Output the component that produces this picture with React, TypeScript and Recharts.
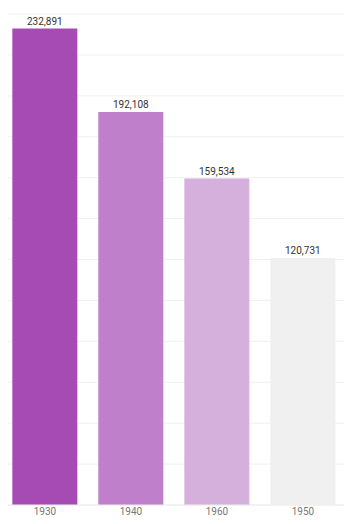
import React from 'react';
import { BarChart, Bar, XAxis, YAxis, CartesianGrid, Cell, LabelList } from 'recharts';

const years = ['1930', '1940', '1960', '1950'];
const population = [232891, 192108, 159534, 120731];
const yTicks = [0, 20000, 40000, 60000, 80000, 100000, 120000, 140000, 160000, 180000, 200000, 220000, 240000];

const barColors = ['#a64bb3', '#c07fca', '#d6b0dd', '#f0f0f0'];

const data = years.map((year, i) => ({ year, value: population[i] }));

const fmt = (v: any) => Number(v).toLocaleString('en-US');

export default function App() {
  return (
    <div style={{ width: 352, height: 524, background: '#f7f7f7', margin: -8, position: 'relative', fontFamily: 'Roboto, sans-serif' }}>
      <div style={{ position: 'absolute', left: 0, top: 0, width: 346, height: 521, background: '#fff' }}>
        <BarChart width={346} height={521} data={data} margin={{ top: 14, right: 0, left: 2, bottom: 0 }} barCategoryGap="12%">
          <CartesianGrid vertical={false} stroke="#f0f0f0" />
          <YAxis hide domain={[0, 240000]} ticks={yTicks} />
          <XAxis
            dataKey="year"
            height={16}
            tickLine={false}
            tickSize={0}
            axisLine={{ stroke: '#eeeeee' }}
            tick={{ fill: '#777', fontSize: 10 }}
            tickMargin={3}
          />
          <Bar dataKey="value" isAnimationActive={false}>
            {data.map((d, i) => (
              <Cell key={d.year} fill={barColors[i]} />
            ))}
            <LabelList dataKey="value" position="top" formatter={fmt} fill="#333" fontSize={10} offset={4} />
          </Bar>
        </BarChart>
      </div>
    </div>
  );
}
